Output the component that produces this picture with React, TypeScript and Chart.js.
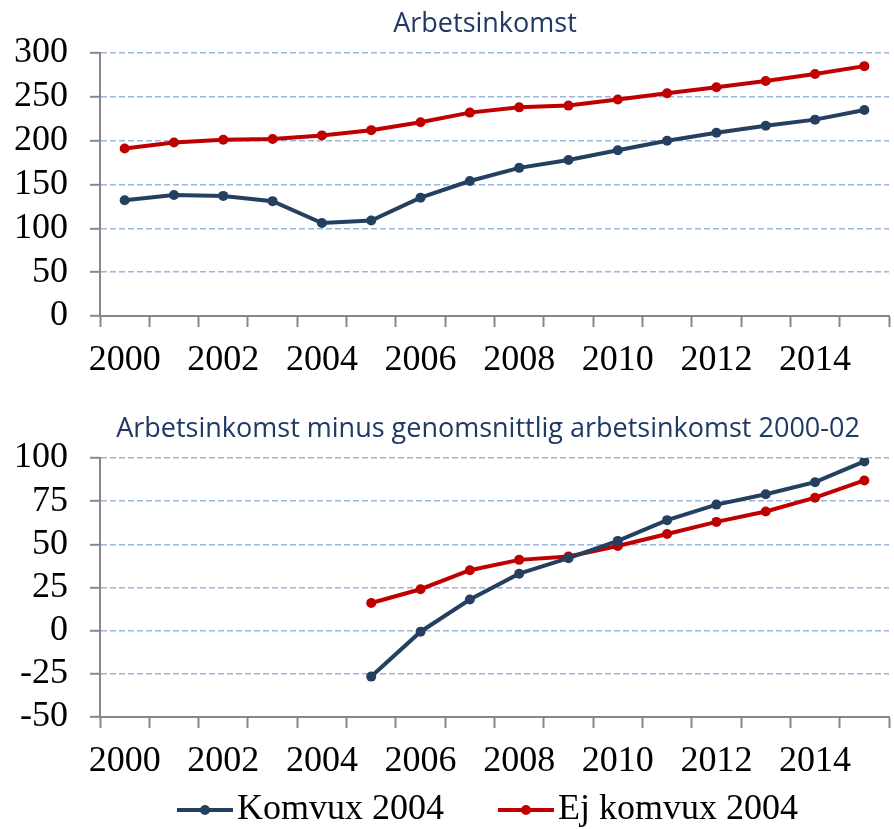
import React, { useEffect, useRef } from 'react';
import { Chart, registerables } from 'chart.js';

Chart.register(...registerables);

const years = ['2000', '2001', '2002', '2003', '2004', '2005', '2006', '2007', '2008', '2009', '2010', '2011', '2012', '2013', '2014', '2015'];
const komvuxIncome = [132, 138, 137, 131, 106, 109, 135, 154, 169, 178, 189, 200, 209, 217, 224, 235];
const ejKomvuxIncome = [191, 198, 201, 202, 206, 212, 221, 232, 238, 240, 247, 254, 261, 268, 276, 285];
const komvuxDiff = [null, null, null, null, null, -26.6, -0.6, 18, 33, 42, 52, 64, 73, 79, 86, 98];
const ejKomvuxDiff = [null, null, null, null, null, 16, 24, 35, 41, 43, 49, 56, 63, 69, 77, 87];
const seriesNames = ['Komvux 2004', 'Ej komvux 2004'];
const titles = ['Arbetsinkomst', 'Arbetsinkomst minus genomsnittlig arbetsinkomst 2000-02'];
const topYRange = [0, 300, 50];
const bottomYRange = [-50, 100, 25];

const NAVY = '#243F60';
const RED = '#C00000';
const GRID = '#9AB6DB';
const AXIS = '#878787';
const TITLE_COLOR = '#1F3864';
const SERIF = '"Liberation Serif", "Times New Roman", serif';
const SANS = '"Open Sans", "Noto Sans", sans-serif';

const panelTitle = {
  id: 'panelTitle',
  afterDraw(chart: any, _args: any, opts: any) {
    if (!opts || !opts.text) return;
    const ctx = chart.ctx;
    ctx.save();
    ctx.font = `${opts.size}px ${SANS}`;
    ctx.fillStyle = TITLE_COLOR;
    ctx.textAlign = 'center';
    ctx.textBaseline = 'middle';
    ctx.fillText(opts.text, opts.x, opts.y);
    ctx.restore();
  },
};

// Legend: line sample with a marker, followed by the series name
const seriesLegend = {
  id: 'seriesLegend',
  afterDraw(chart: any, _args: any, opts: any) {
    if (!opts || !opts.show) return;
    const ctx = chart.ctx;
    const sample = 56;
    const textGap = 4;
    const itemGap = 54;
    ctx.save();
    ctx.font = `36px ${SERIF}`;
    const items = chart.data.datasets.map((ds: any) => ({
      label: ds.label,
      color: ds.borderColor,
      w: ctx.measureText(ds.label).width,
    }));
    const total = items.reduce((s: number, it: any) => s + sample + textGap + it.w, 0) + itemGap * (items.length - 1);
    let x = opts.cx - total / 2;
    const y = opts.y;
    items.forEach((it: any) => {
      ctx.strokeStyle = it.color;
      ctx.lineWidth = 4;
      ctx.beginPath();
      ctx.moveTo(x, y);
      ctx.lineTo(x + sample, y);
      ctx.stroke();
      ctx.fillStyle = it.color;
      ctx.beginPath();
      ctx.arc(x + sample / 2, y, 5, 0, Math.PI * 2);
      ctx.fill();
      ctx.fillStyle = '#000';
      ctx.textAlign = 'left';
      ctx.textBaseline = 'middle';
      ctx.fillText(it.label, x + sample + textGap, y);
      x += sample + textGap + it.w + itemGap;
    });
    ctx.restore();
  },
};

function yScale(range: number[]) {
  return {
    min: range[0],
    max: range[1],
    ticks: { stepSize: range[2], autoSkip: false, font: { family: SERIF, size: 36 }, color: '#000', padding: 22 },
    grid: { color: GRID, lineWidth: 1.6, tickColor: AXIS, tickLength: 10, tickWidth: 2, tickBorderDash: [] },
    border: { color: AXIS, width: 2, dash: [6, 3] },
    afterFit(s: any) { s.width = 100; },
  };
}

function xScale() {
  return {
    offset: true,
    grid: { offset: true, drawOnChartArea: false, drawTicks: true, tickLength: 11, tickColor: AXIS, tickWidth: 2 },
    border: { color: AXIS, width: 2 },
    ticks: {
      autoSkip: false,
      maxRotation: 0,
      minRotation: 0,
      font: { family: SERIF, size: 36 },
      color: '#000',
      padding: 12,
      callback: (_v: any, i: number) => (Number(years[i]) % 2 === 0 ? years[i] : ''),
    },
    afterFit(s: any) { s.height = 74; },
  };
}

function lineDataset(label: string, data: (number | null)[], color: string) {
  return {
    label,
    data,
    borderColor: color,
    backgroundColor: color,
    borderWidth: 4,
    pointRadius: 5,
    pointBackgroundColor: color,
    pointBorderColor: color,
    pointBorderWidth: 0,
    tension: 0,
    spanGaps: false,
  };
}

export default function App() {
  const topRef = useRef<HTMLCanvasElement>(null);
  const botRef = useRef<HTMLCanvasElement>(null);

  useEffect(() => {
    const top = new Chart(topRef.current!, {
      type: 'line',
      data: {
        labels: years,
        datasets: [lineDataset(seriesNames[0], komvuxIncome, NAVY), lineDataset(seriesNames[1], ejKomvuxIncome, RED)],
      },
      options: {
        responsive: false,
        animation: false,
        events: [],
        layout: { padding: { top: 53, right: 3, left: 0, bottom: 0 } },
        scales: { x: xScale() as any, y: yScale(topYRange) as any },
        plugins: {
          legend: { display: false },
          tooltip: { enabled: false },
          panelTitle: { text: titles[0], x: 485, y: 24, size: 27 },
          seriesLegend: { show: false },
        } as any,
      },
      plugins: [panelTitle, seriesLegend],
    });

    const bottom = new Chart(botRef.current!, {
      type: 'line',
      data: {
        labels: years,
        datasets: [lineDataset(seriesNames[0], komvuxDiff, NAVY), lineDataset(seriesNames[1], ejKomvuxDiff, RED)],
      },
      options: {
        responsive: false,
        animation: false,
        events: [],
        layout: { padding: { top: 68, right: 3, left: 0, bottom: 38 } },
        scales: { x: xScale() as any, y: yScale(bottomYRange) as any },
        plugins: {
          legend: { display: false },
          tooltip: { enabled: false },
          panelTitle: { text: titles[1], x: 488, y: 39, size: 27 },
          seriesLegend: { show: true, cx: 487.5, y: 420 },
        } as any,
      },
      plugins: [panelTitle, seriesLegend],
    });

    return () => {
      top.destroy();
      bottom.destroy();
    };
  }, []);

  return (
    <div style={{ position: 'fixed', left: 0, top: 0, width: 894, height: 829, overflow: 'hidden', background: '#fff' }}>
      <canvas ref={topRef} width={894} height={390} style={{ position: 'absolute', left: 0, top: 0, width: 894, height: 390 }} />
      <canvas ref={botRef} width={894} height={439} style={{ position: 'absolute', left: 0, top: 390, width: 894, height: 439 }} />
    </div>
  );
}
